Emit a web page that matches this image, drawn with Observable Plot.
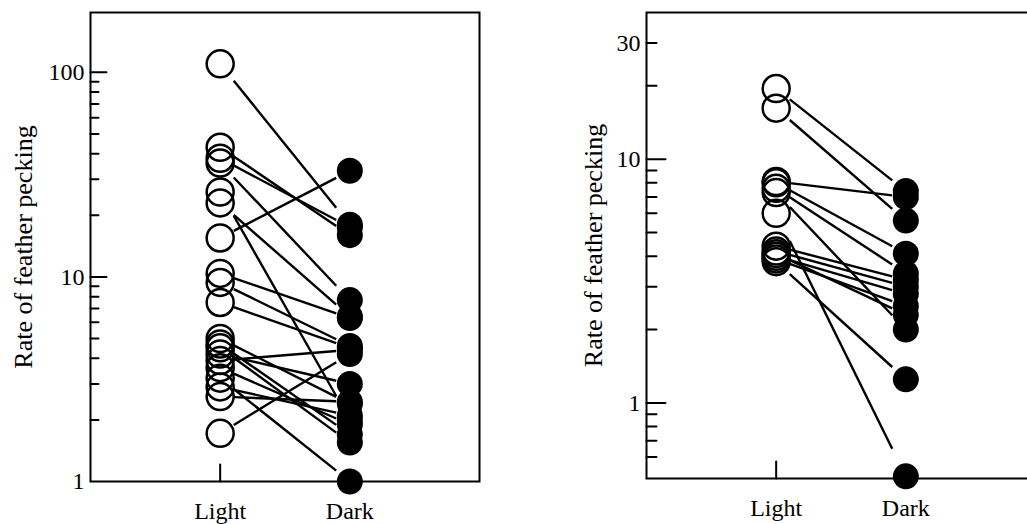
<!DOCTYPE html>
<html>
<head>
<meta charset="utf-8">
<script src="https://cdn.jsdelivr.net/npm/d3@7"></script>
<script src="https://cdn.jsdelivr.net/npm/@observablehq/plot@0.6"></script>
<style>
  html, body { margin: 0; padding: 0; background: #fff; overflow: hidden; width: 1027px; height: 524px; }
  #wrap { position: relative; width: 1027px; height: 524px; overflow: hidden; }
  .panel { position: absolute; top: 0; width: 520px; height: 524px; }
  .panel svg { max-width: none !important; width: 520px; height: 524px; display: block; }
</style>
</head>
<body>
<div id="wrap">
  <div id="p1" class="panel" style="left:0px"></div>
  <div id="p2" class="panel" style="left:520px"></div>
</div>
<script>
// ---- data ----
const conditions = ["Light", "Dark"];
const yLabel = "Rate of feather pecking";

// left panel: paired values (same index = same group)
const leftLight = [110, 43, 38, 36, 26, 23, 15.5, 10.4, 9.4, 7.5, 5.0, 4.7, 4.5, 4.2, 3.9, 3.6, 3.2, 2.9, 2.6, 1.72];
const leftDark  = [18, 16, 17.5, 7.7, 2.0, 6.4, 33, 6.3, 4.6, 4.5, 2.4, 1.7, 1.55, 3.0, 4.4, 1.9, 1.0, 2.1, 2.45, 4.2];

// right panel
const rightLight = [19.5, 16.2, 8.1, 8.0, 7.6, 7.3, 6.0, 4.4, 4.2, 4.0, 3.9, 3.8, 4.1];
const rightDark  = [7.4, 5.6, 7.0, 4.1, 3.4, 2.0, 0.5, 3.2, 3.0, 2.8, 2.5, 1.25, 2.3];

// tick values
const leftTickLabels = [1, 10, 100];
const leftMajorTicks = [10, 100];
const leftMinorTicks = [2, 3, 4, 5, 6, 7, 8, 9, 20, 30, 40, 50, 60, 70, 80, 90];
const leftDomain = [1, 196];

const rightTickLabels = [1, 10, 30];
const rightMajorTicks = [1, 10];
const rightMinorTicks = [0.6, 0.7, 0.8, 0.9, 2, 3, 4, 5, 6, 7, 8, 9, 20, 30];
const rightDomain = [0.49, 40];

// ---- drawing ----
const FONT = "Liberation Serif";
const tickShape = { draw(context, l) { context.moveTo(0, 0); context.lineTo(0, -l); } };

function panel(cfg) {
  const xi = c => conditions.indexOf(c) + 1;
  const pairs = cfg.light.map((v, i) => ({ light: v, dark: cfg.dark[i] }));
  const g = 0.105; // fraction of the gap left empty next to each marker
  const segs = pairs.map(p => {
    const a = Math.log(p.light), b = Math.log(p.dark);
    return {
      x1: xi("Light") + g, y1: Math.exp(a + g * (b - a)),
      x2: xi("Dark") - g,  y2: Math.exp(b - g * (b - a))
    };
  });
  return Plot.plot({
    width: cfg.width,
    height: 524,
    marginTop: 12,
    marginLeft: cfg.marginLeft,
    marginRight: cfg.marginRight,
    marginBottom: cfg.marginBottom,
    style: { fontFamily: FONT, background: "white", color: "black", overflow: "visible", maxWidth: "none" },
    x: { domain: [0, conditions.length + 1], axis: null },
    y: { type: "log", domain: cfg.domain, axis: null },
    marks: [
      Plot.frame({ stroke: "black", strokeWidth: 2 }),
      Plot.link(segs, { x1: "x1", y1: "y1", x2: "x2", y2: "y2", stroke: "black", strokeWidth: 2.4 }),
      Plot.dot(pairs, { x: () => xi("Light"), y: "light", r: 13.5, stroke: "black", strokeWidth: 2.5, fill: "none" }),
      Plot.dot(pairs, { x: () => xi("Dark"), y: "dark", r: 13, fill: "black", stroke: "none" }),
      Plot.vector(cfg.minors, { y: d => d, frameAnchor: "left", length: cfg.minorLen, rotate: 90, anchor: "start", shape: tickShape, stroke: "black", strokeWidth: 2 }),
      Plot.vector(cfg.majors, { y: d => d, frameAnchor: "left", length: cfg.majorLen, rotate: 90, anchor: "start", shape: tickShape, stroke: "black", strokeWidth: 2 }),
      Plot.vector(["Light"], { x: d => xi(d), frameAnchor: "bottom", length: 17, rotate: 0, anchor: "start", shape: tickShape, stroke: "black", strokeWidth: 2 }),
      Plot.text(cfg.labels, { y: d => d, frameAnchor: "left", text: d => String(d), textAnchor: "end", dx: -6, fontSize: 24, fontFamily: FONT, fill: "black" }),
      Plot.text(conditions, { x: d => xi(d), frameAnchor: "bottom", text: d => d, textAnchor: "middle", lineAnchor: "top", dy: cfg.xLabelDy, fontSize: 24, fontFamily: FONT, fill: "black" }),
      Plot.text([yLabel], { frameAnchor: "left", text: d => d, textAnchor: "middle", lineAnchor: "middle", rotate: -90, dx: cfg.titleDx, fontSize: 26, fontFamily: FONT, fill: "black" })
    ]
  });
}

document.getElementById("p1").appendChild(panel({
  light: leftLight, dark: leftDark, width: 520, marginLeft: 90, marginRight: 41, marginBottom: 43,
  domain: leftDomain, labels: leftTickLabels, majors: leftMajorTicks, minors: leftMinorTicks,
  minorLen: 8, majorLen: 16, xLabelDy: 20, titleDx: -67
}));

document.getElementById("p2").appendChild(panel({
  light: rightLight, dark: rightDark, width: 520, marginLeft: 126, marginRight: 5, marginBottom: 46,
  domain: rightDomain, labels: rightTickLabels, majors: rightMajorTicks, minors: rightMinorTicks,
  minorLen: 10, majorLen: 19, xLabelDy: 20, titleDx: -53
}));
</script>
</body>
</html>
